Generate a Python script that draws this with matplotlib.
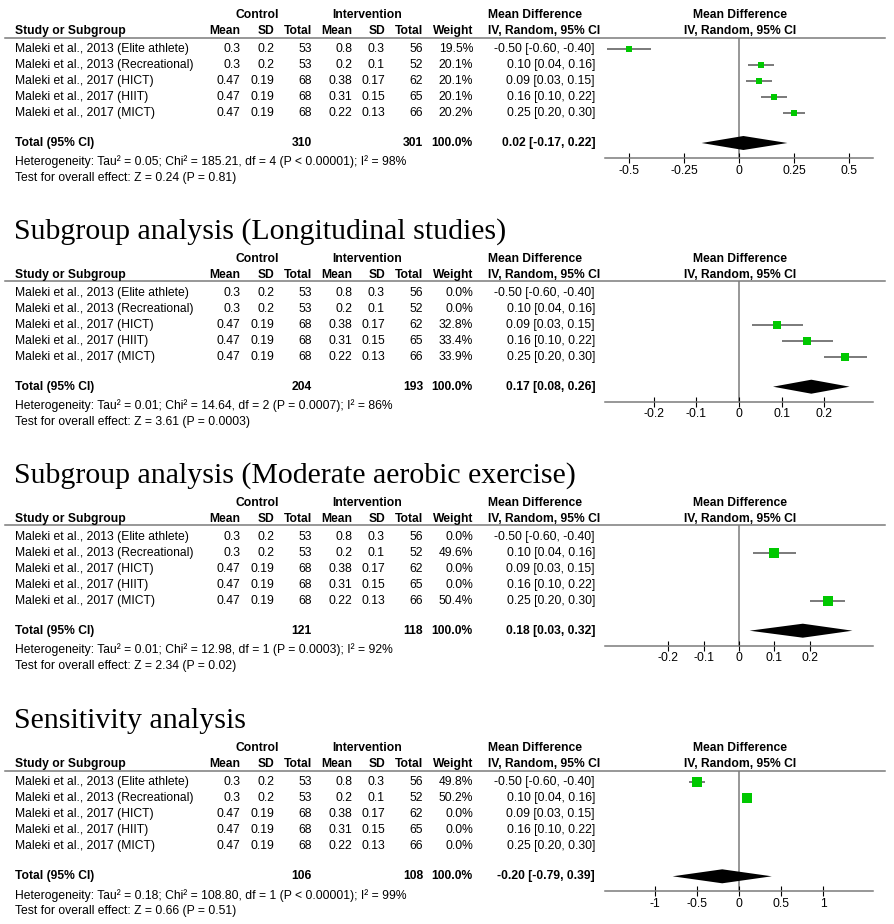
import matplotlib
matplotlib.use("Agg")
import matplotlib.pyplot as plt
from matplotlib.patches import Polygon

plt.rcParams['axes.unicode_minus'] = False

# ---------------- data ----------------
studies = ["Maleki et al., 2013 (Elite athlete)", "Maleki et al., 2013 (Recreational)",
           "Maleki et al., 2017 (HICT)", "Maleki et al., 2017 (HIIT)", "Maleki et al., 2017 (MICT)"]
ctrl_mean = [0.3, 0.3, 0.47, 0.47, 0.47]
ctrl_sd = [0.2, 0.2, 0.19, 0.19, 0.19]
ctrl_n = [53, 53, 68, 68, 68]
int_mean = [0.8, 0.2, 0.38, 0.31, 0.22]
int_sd = [0.3, 0.1, 0.17, 0.15, 0.13]
int_n = [56, 52, 62, 65, 66]
md = [-0.50, 0.10, 0.09, 0.16, 0.25]
md_lo = [-0.60, 0.04, 0.03, 0.10, 0.20]
md_hi = [-0.40, 0.16, 0.15, 0.22, 0.30]

titles = [None, "Subgroup analysis (Longitudinal studies)",
          "Subgroup analysis (Moderate aerobic exercise)", "Sensitivity analysis"]
weights = [[19.5, 20.1, 20.1, 20.1, 20.2],
           [0.0, 0.0, 32.8, 33.4, 33.9],
           [0.0, 49.6, 0.0, 0.0, 50.4],
           [49.8, 50.2, 0.0, 0.0, 0.0]]
tot_ctrl = [310, 204, 121, 106]
tot_int = [301, 193, 118, 108]
pooled = [0.02, 0.17, 0.18, -0.20]
pooled_lo = [-0.17, 0.08, 0.03, -0.79]
pooled_hi = [0.22, 0.26, 0.32, 0.39]
het_text = ["Heterogeneity: Tau\u00b2 = 0.05; Chi\u00b2 = 185.21, df = 4 (P < 0.00001); I\u00b2 = 98%",
            "Heterogeneity: Tau\u00b2 = 0.01; Chi\u00b2 = 14.64, df = 2 (P = 0.0007); I\u00b2 = 86%",
            "Heterogeneity: Tau\u00b2 = 0.01; Chi\u00b2 = 12.98, df = 1 (P = 0.0003); I\u00b2 = 92%",
            "Heterogeneity: Tau\u00b2 = 0.18; Chi\u00b2 = 108.80, df = 1 (P < 0.00001); I\u00b2 = 99%"]
overall_text = ["Test for overall effect: Z = 0.24 (P = 0.81)",
                "Test for overall effect: Z = 3.61 (P = 0.0003)",
                "Test for overall effect: Z = 2.34 (P = 0.02)",
                "Test for overall effect: Z = 0.66 (P = 0.51)"]
axis_ticks = [[-0.5, -0.25, 0, 0.25, 0.5],
              [-0.2, -0.1, 0, 0.1, 0.2],
              [-0.2, -0.1, 0, 0.1, 0.2],
              [-1, -0.5, 0, 0.5, 1]]
axis_halfrange = [0.609, 0.315, 0.378, 1.595]

# ---------------- layout ----------------
W, H = 894, 924
fig = plt.figure(figsize=(W / 100, H / 100), dpi=100)
SANS = "Liberation Sans"
SERIF = "Liberation Serif"
FS = 8.75
GREEN = "#00c800"
GREY = "#7a7a7a"
CIGREY = "#6a6a6a"

row_top = [49, 292.7, 536.7, 782.3]   # y (px) of first study row per panel
ROW = 16.0
PLOT_L, PLOT_R = 605, 873


def fx(x):
    return x / W


def fy(y):
    return 1 - y / H


def txt(x, y, s, ha="left", bold=False, **kw):
    fig.text(fx(x), fy(y), s, ha=ha, va="center", fontsize=FS, family=SANS,
             fontweight="bold" if bold else "normal", color="black", **kw)


def fmt(v):
    return f"{v:g}"


for p in range(4):
    y0 = row_top[p]
    if titles[p]:
        fig.text(fx(14), fy(y0 - 54), titles[p], ha="left", va="baseline",
                 fontsize=21.5, family=SERIF, color="black")
    # header rows
    txt(257, y0 - 34, "Control", ha="center", bold=True)
    txt(367, y0 - 34, "Intervention", ha="center", bold=True)
    txt(488, y0 - 34, "Mean Difference", bold=True)
    txt(740, y0 - 34, "Mean Difference", ha="center", bold=True)
    hy = y0 - 18
    txt(15, hy, "Study or Subgroup", bold=True)
    txt(240, hy, "Mean", ha="right", bold=True)
    txt(274, hy, "SD", ha="right", bold=True)
    txt(312, hy, "Total", ha="right", bold=True)
    txt(352, hy, "Mean", ha="right", bold=True)
    txt(385, hy, "SD", ha="right", bold=True)
    txt(423, hy, "Total", ha="right", bold=True)
    txt(473, hy, "Weight", ha="right", bold=True)
    txt(488, hy, "IV, Random, 95% CI", bold=True)
    txt(740, hy, "IV, Random, 95% CI", ha="center", bold=True)
    # header rule
    ly = y0 - 11.5
    fig.add_artist(plt.Line2D([fx(5), fx(885)], [fy(ly), fy(ly)], color=GREY, lw=1.1))

    for i, s in enumerate(studies):
        yy = y0 + i * ROW
        txt(15, yy, s)
        txt(240, yy, fmt(ctrl_mean[i]), ha="right")
        txt(274, yy, fmt(ctrl_sd[i]), ha="right")
        txt(312, yy, str(ctrl_n[i]), ha="right")
        txt(352, yy, fmt(int_mean[i]), ha="right")
        txt(385, yy, fmt(int_sd[i]), ha="right")
        txt(423, yy, str(int_n[i]), ha="right")
        txt(473, yy, f"{weights[p][i]:.1f}%", ha="right")
        txt(595, yy, f"{md[i]:.2f} [{md_lo[i]:.2f}, {md_hi[i]:.2f}]", ha="right")

    ty = y0 + 94
    txt(15, ty, "Total (95% CI)", bold=True)
    txt(312, ty, str(tot_ctrl[p]), ha="right", bold=True)
    txt(423, ty, str(tot_int[p]), ha="right", bold=True)
    txt(473, ty, "100.0%", ha="right", bold=True)
    txt(595, ty, f"{pooled[p]:.2f} [{pooled_lo[p]:.2f}, {pooled_hi[p]:.2f}]", ha="right", bold=True)
    txt(15, y0 + 113, het_text[p])
    txt(15, y0 + 129, overall_text[p])

    # forest axes: top at header rule, bottom at x-axis line
    ax_top = ly
    ax_bot = y0 + 109
    ax = fig.add_axes([fx(PLOT_L), fy(ax_bot), fx(PLOT_R - PLOT_L), (ax_bot - ax_top) / H])
    ax.set_xlim(-axis_halfrange[p], axis_halfrange[p])
    ax.set_ylim((ax_bot - y0) / ROW, (ax_top - y0) / ROW)
    ax.patch.set_alpha(0)
    for sp in ["top", "left", "right"]:
        ax.spines[sp].set_visible(False)
    ax.spines["bottom"].set_color(GREY)
    ax.spines["bottom"].set_linewidth(1.1)
    ax.set_yticks([])
    ax.set_xticks(axis_ticks[p])
    ax.set_xticklabels([fmt(t) for t in axis_ticks[p]], fontsize=FS, family=SANS)
    ax.tick_params(axis="x", direction="inout", length=6.5, width=0.8, color="black", pad=1.5)
    ax.axvline(0, color=GREY, lw=1.1, zorder=1)

    for i in range(len(studies)):
        w = weights[p][i]
        if w <= 0:
            continue
        ax.plot([md_lo[i], md_hi[i]], [i, i], color=CIGREY, lw=1.25, solid_capstyle="butt", zorder=2)
        ms = (2 + 0.16 * w) / 1.389
        ax.plot([md[i]], [i], marker="s", ms=ms, color=GREEN, mec=GREEN, mew=0, zorder=3)

    tr = 94 / ROW
    dh = 7.0 / ROW
    ax.add_patch(Polygon([(pooled_lo[p], tr), (pooled[p], tr - dh), (pooled_hi[p], tr),
                          (pooled[p], tr + dh)], closed=True, color="black", lw=0, zorder=4))

fig.savefig("out.png", dpi=100)
